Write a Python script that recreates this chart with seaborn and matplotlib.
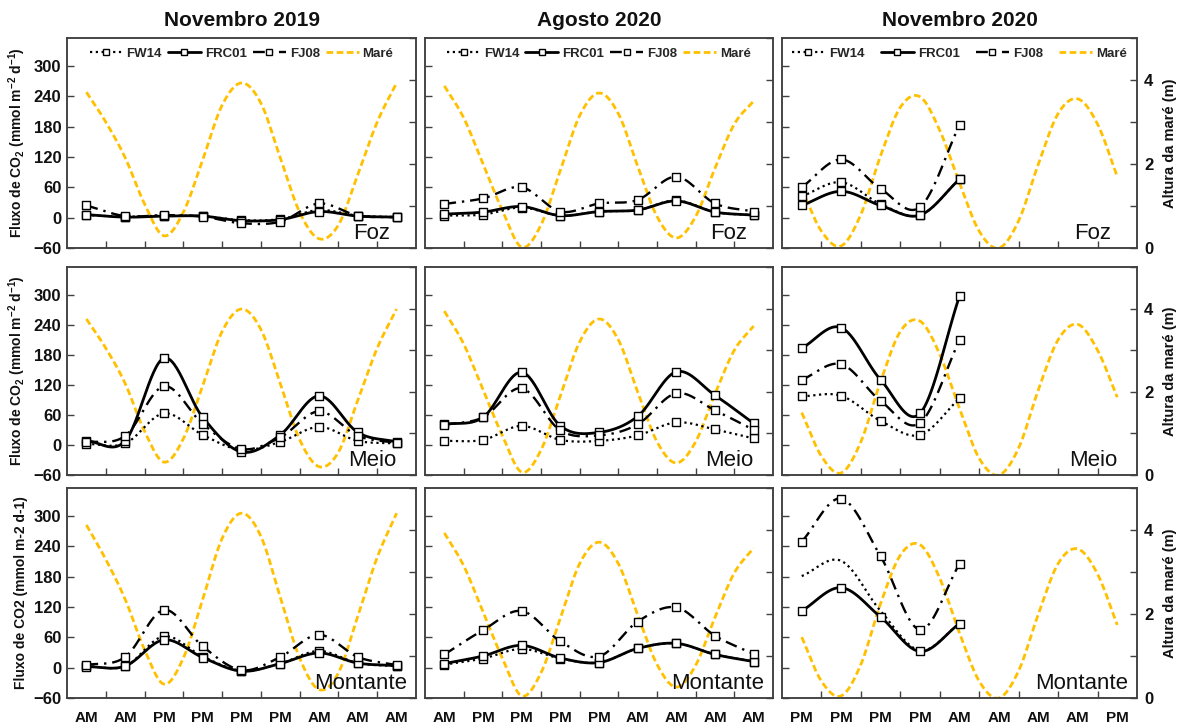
import numpy as np
import pandas as pd
import matplotlib
matplotlib.use("Agg")
import matplotlib.pyplot as plt
from matplotlib.lines import Line2D
import seaborn as sns

sns.set_theme(style="white")
plt.rcParams['font.family'] = ['Liberation Sans', 'DejaVu Sans']
plt.rcParams['mathtext.fontset'] = 'custom'
plt.rcParams['mathtext.rm'] = 'Liberation Sans'
plt.rcParams['mathtext.bf'] = 'Liberation Sans:bold'
plt.rcParams['mathtext.default'] = 'bf'

# ---------------- data ----------------
col_titles = ["Novembro 2019", "Agosto 2020", "Novembro 2020"]
row_names = ["Foz", "Meio", "Montante"]
xlabels_c1 = ["AM", "AM", "PM", "PM", "PM", "PM", "AM", "AM", "AM"]
xlabels_c2 = ["AM", "PM", "PM", "PM", "PM", "AM", "AM", "AM", "AM"]
xlabels_c3 = ["PM", "PM", "PM", "PM", "AM", "AM", "AM", "AM", "PM"]
series_names = ["FW14", "FRC01", "FJ08", "Maré"]

# Novembro 2019
fw14_n19_foz = [5, 2, 4, 3, -5, -3, 15, 4, 1]
frc01_n19_foz = [6, 1, 3, 3, -6, -4, 12, 3, 1]
fj08_n19_foz = [24, 3, 5, 2, -11, -8, 28, 4, 1]
fw14_n19_meio = [2, 3, 63, 20, -10, 6, 36, 8, 3]
frc01_n19_meio = [8, 8, 173, 55, -14, 20, 98, 25, 6]
fj08_n19_meio = [5, 18, 117, 42, -8, 15, 67, 18, 4]
fw14_n19_mont = [3, 3, 62, 22, -6, 8, 33, 9, 3]
frc01_n19_mont = [2, 3, 55, 20, -7, 8, 29, 9, 4]
fj08_n19_mont = [5, 21, 114, 42, -5, 21, 65, 21, 5]

# Agosto 2020
fw14_a20_foz = [4, 6, 20, 4, 12, 15, 34, 11, 5]
frc01_a20_foz = [7, 11, 22, 4, 12, 15, 33, 11, 5]
fj08_a20_foz = [27, 38, 60, 12, 28, 35, 81, 28, 12]
fw14_a20_meio = [8, 10, 38, 10, 8, 19, 45, 31, 13]
frc01_a20_meio = [41, 55, 145, 38, 25, 57, 146, 99, 43]
fj08_a20_meio = [40, 55, 113, 29, 19, 41, 103, 69, 30]
fw14_a20_mont = [6, 18, 37, 18, 10, 38, 48, 26, 12]
frc01_a20_mont = [8, 23, 44, 19, 10, 38, 48, 26, 12]
fj08_a20_mont = [26, 74, 112, 52, 22, 91, 119, 63, 27]

# Novembro 2020
fw14_n20_foz = [42, 70, 27, 5, 76]
frc01_n20_foz = [24, 52, 24, 5, 76]
fj08_n20_foz = [60, 115, 57, 21, 183]
fw14_n20_meio = [97, 98, 48, 20, 93]
frc01_n20_meio = [193, 234, 130, 63, 297]
fj08_n20_meio = [130, 161, 88, 44, 209]
fw14_n20_mont = [181, 211, 112, 34, 87]
frc01_n20_mont = [112, 158, 100, 32, 87]
fj08_n20_mont = [249, 334, 220, 75, 205]

# Tide height (m), read every half category step
tide_steps = [0, 0.5, 1, 1.5, 2, 2.5, 3, 3.5, 4, 4.5, 5, 5.5, 6, 6.5, 7, 7.5, 8]
tide_n19_foz = [3.71, 3.0, 2.15, 1.05, 0.29, 0.85, 2.1, 3.4, 3.93, 3.45, 2.15, 0.85, 0.22, 0.55, 1.75, 3.0, 3.93]
tide_n19_meio = [3.75, 3.05, 2.2, 1.05, 0.31, 0.87, 2.15, 3.45, 3.99, 3.5, 2.2, 0.85, 0.2, 0.55, 1.8, 3.05, 3.99]
tide_n19_mont = [4.12, 3.3, 2.35, 1.15, 0.33, 0.95, 2.35, 3.8, 4.4, 3.85, 2.4, 0.95, 0.2, 0.6, 1.95, 3.35, 4.4]
tide_a20_foz = [3.86, 3.1, 2.0, 0.9, 0.02, 0.55, 1.85, 3.15, 3.69, 3.2, 1.95, 0.75, 0.24, 0.75, 1.9, 2.95, 3.5]
tide_a20_meio = [3.94, 3.15, 2.05, 0.95, 0.07, 0.6, 1.9, 3.2, 3.75, 3.25, 2.0, 0.8, 0.29, 0.8, 1.95, 3.0, 3.58]
tide_a20_mont = [3.93, 3.15, 2.05, 0.95, 0.05, 0.6, 1.9, 3.2, 3.71, 3.2, 1.98, 0.8, 0.26, 0.78, 1.92, 2.98, 3.57]
tide_n20_foz = [1.4, 0.4, 0.05, 0.8, 2.2, 3.35, 3.6, 2.8, 1.55, 0.4, 0.0, 0.65, 2.0, 3.2, 3.55, 2.95, 1.7]
tide_n20_meio = [1.5, 0.45, 0.05, 0.8, 2.25, 3.45, 3.7, 2.9, 1.6, 0.4, 0.0, 0.65, 2.05, 3.25, 3.62, 3.0, 1.87]
tide_n20_mont = [1.45, 0.4, 0.05, 0.8, 2.25, 3.4, 3.65, 2.85, 1.55, 0.4, 0.0, 0.65, 2.0, 3.2, 3.55, 2.95, 1.74]

panels = [
    [(fw14_n19_foz, frc01_n19_foz, fj08_n19_foz, tide_n19_foz),
     (fw14_a20_foz, frc01_a20_foz, fj08_a20_foz, tide_a20_foz),
     (fw14_n20_foz, frc01_n20_foz, fj08_n20_foz, tide_n20_foz)],
    [(fw14_n19_meio, frc01_n19_meio, fj08_n19_meio, tide_n19_meio),
     (fw14_a20_meio, frc01_a20_meio, fj08_a20_meio, tide_a20_meio),
     (fw14_n20_meio, frc01_n20_meio, fj08_n20_meio, tide_n20_meio)],
    [(fw14_n19_mont, frc01_n19_mont, fj08_n19_mont, tide_n19_mont),
     (fw14_a20_mont, frc01_a20_mont, fj08_a20_mont, tide_a20_mont),
     (fw14_n20_mont, frc01_n20_mont, fj08_n20_mont, tide_n20_mont)],
]
xlabel_sets = [xlabels_c1, xlabels_c2, xlabels_c3]

# ---------------- styles ----------------
TIDE_COLOR = "#FFC000"
SPINE = "#404040"
styles = {
    "FW14": dict(color="black", linewidth=1.6, linestyle=(0, (1, 1.6))),
    "FRC01": dict(color="black", linewidth=2.0, linestyle="-"),
    "FJ08": dict(color="black", linewidth=1.7, linestyle=(0, (5, 2.5, 1, 2.5))),
}
tide_style = dict(color=TIDE_COLOR, linewidth=2.0, linestyle=(0, (2.4, 1.25)))


def smooth(xs, ys, n=30):
    """Excel-like smoothed line (Catmull-Rom) through the given points."""
    xs = np.asarray(xs, float)
    ys = np.asarray(ys, float)
    px = np.concatenate([[2 * xs[0] - xs[1]], xs, [2 * xs[-1] - xs[-2]]])
    py = np.concatenate([[2 * ys[0] - ys[1]], ys, [2 * ys[-1] - ys[-2]]])
    t = np.linspace(0, 1, n, endpoint=False)
    ox, oy = [], []
    for i in range(1, len(px) - 2):
        for P, out in ((px, ox), (py, oy)):
            p0, p1, p2, p3 = P[i - 1], P[i], P[i + 1], P[i + 2]
            out.extend(0.5 * (2 * p1 + (-p0 + p2) * t + (2 * p0 - 5 * p1 + 4 * p2 - p3) * t ** 2
                              + (-p0 + 3 * p1 - 3 * p2 + p3) * t ** 3))
    ox.append(xs[-1])
    oy.append(ys[-1])
    return np.array(ox), np.array(oy)


# ---------------- layout ----------------
W, H = 1182, 726
fig = plt.figure(figsize=(W / 100, H / 100), dpi=100)
cols_px = [(67, 349), (425, 348), (782, 355)]
rows_px = [(38, 210), (267, 208), (488, 210)]
region_gap = [26, 20, 9]
legend_spacing = [0.45, 0.45, 1.25]

ylab_math = "Fluxo de CO$_{2}$ (mmol m$^{-2}$ d$^{-1}$)"
ylab_plain = "Fluxo de CO2 (mmol m-2 d-1)"

for r, (top, h) in enumerate(rows_px):
    for c, (left, w) in enumerate(cols_px):
        ax = fig.add_axes([left / W, 1 - (top + h) / H, w / W, h / H])
        ax2 = ax.twinx()
        ax.set_zorder(ax2.get_zorder() + 1)
        ax.patch.set_visible(False)

        fw, frc, fj, tide = panels[r][c]

        # tide on secondary axis
        tx, ty = smooth(tide_steps, tide, n=20)
        sns.lineplot(x=tx, y=ty, ax=ax2, sort=False, estimator=None, legend=False, **tide_style)

        # flux series
        for name, vals in (("FW14", fw), ("FRC01", frc), ("FJ08", fj)):
            xs = list(range(len(vals)))
            sx, sy = smooth(xs, vals)
            sns.lineplot(x=sx, y=sy, ax=ax, sort=False, estimator=None, legend=False, **styles[name])
            if not (name == "FW14" and r == 2 and c == 2):
                sns.scatterplot(x=xs, y=vals, ax=ax, marker="s", s=30, color="white",
                                edgecolor="black", linewidth=1.0, zorder=5, legend=False)

        # axes formatting
        ax.set_xlim(-0.5, 8.5)
        ax.set_ylim(-60, 355)
        ax2.set_ylim(0, 5)
        ax.set_yticks([-60, 0, 60, 120, 180, 240, 300])
        ax2.set_yticks([0, 1, 2, 3, 4, 5])
        ax.set_xticks(range(9))
        ax.set_xticks([i + 0.5 for i in range(8)], minor=True)
        if r == 2:
            ax.set_xticklabels(xlabel_sets[c], fontsize=11, fontweight="bold")
        else:
            ax.set_xticklabels([])
        ax.tick_params(axis="x", which="major", length=0, pad=9, colors="#111111")
        ax.tick_params(axis="x", which="minor", direction="in", length=5, width=1, color=SPINE, bottom=True)
        ax.tick_params(axis="y", direction="in", length=5, width=1, color=SPINE, pad=4,
                       labelsize=12, labelcolor="#111111", left=True)
        ax2.tick_params(axis="y", direction="in", length=5, width=1, color=SPINE, pad=5,
                        labelsize=12, labelcolor="#111111", right=True)
        if c == 0:
            for lab in ax.get_yticklabels():
                lab.set_fontweight("bold")
            ax.set_ylabel(ylab_math if r < 2 else ylab_plain, fontsize=10, fontweight="bold",
                          labelpad=4, color="#111111")
        else:
            ax.set_yticklabels([])
        if c == 2:
            ax2.set_yticklabels(["0", "", "2", "", "4", ""], fontweight="bold")
            ax2.set_ylabel("Altura da maré (m)", fontsize=10.5, fontweight="bold",
                           labelpad=7, color="#111111")
        else:
            ax2.set_yticklabels([])
        ax.set_xlabel("")
        for a in (ax, ax2):
            for sp in a.spines.values():
                sp.set_color(SPINE)
                sp.set_linewidth(1.1)

        ax.text(1 - region_gap[r] / w, 0.02, row_names[r], transform=ax.transAxes,
                ha="right", va="bottom", fontsize=16, color="#111111")

        if r == 0:
            handles = [
                Line2D([], [], marker="s", markersize=5, markerfacecolor="white",
                       markeredgecolor="black", **styles["FW14"]),
                Line2D([], [], marker="s", markersize=5, markerfacecolor="white",
                       markeredgecolor="black", **styles["FRC01"]),
                Line2D([], [], marker="s", markersize=5, markerfacecolor="white",
                       markeredgecolor="black", **styles["FJ08"]),
                Line2D([], [], **tide_style),
            ]
            ax.legend(handles, series_names, loc="upper center", bbox_to_anchor=(0.5, 1.01),
                      ncol=4, frameon=False, handlelength=2.5, handletextpad=0.3,
                      columnspacing=legend_spacing[c], prop=dict(weight="bold", size=9.5))

for c, (left, w) in enumerate(cols_px):
    fig.text((left + w / 2) / W, 1 - 20 / H, col_titles[c], ha="center", va="center",
             fontsize=15, fontweight="bold", color="#111111")

fig.savefig("out.png", dpi=100)
